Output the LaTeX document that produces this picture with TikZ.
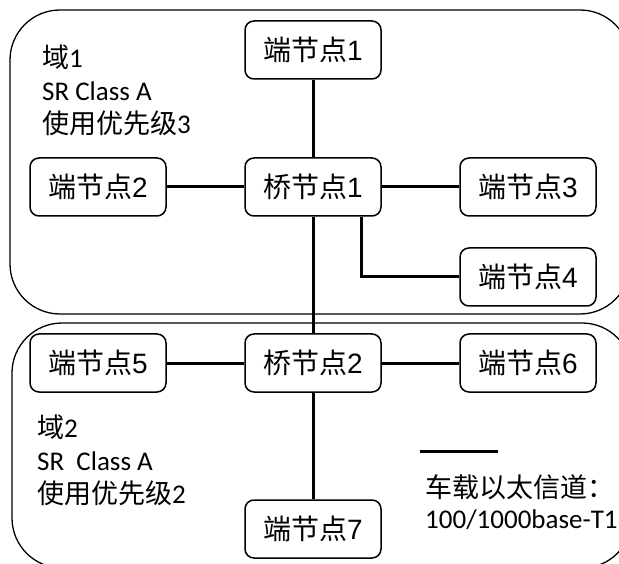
\documentclass[tikz,border=0pt]{standalone}
\usepackage{fontspec}
\setmainfont{Liberation Sans}
\newfontfamily\cjk{Noto Sans CJK SC}
\newfontfamily\calfont{Carlito}
\begin{document}
\begin{tikzpicture}[x=1pt,y=-1pt,
  nodebox/.style={draw, line width=1.5pt, rounded corners=9pt, minimum width=136pt, minimum height=58pt, inner sep=0pt, font=\fontsize{28}{30}\selectfont},
  link/.style={line width=3pt},
  domainbox/.style={draw, line width=1.3pt, rounded corners=50pt},
  lab/.style={anchor=base west, inner sep=0pt, font=\calfont\fontsize{27}{30}\selectfont}]
\useasboundingbox (0,0) rectangle (619,564);
\clip (0,0) rectangle (619,564);
% domains
\draw[domainbox] (10,10) rectangle (630,314);
\draw[domainbox] (12,323) rectangle (632,568);
% nodes
\node[nodebox] (e1) at (313,50)  {{\cjk 端节点}1};
\node[nodebox] (e2) at (98,187)  {{\cjk 端节点}2};
\node[nodebox] (b1) at (313,187) {{\cjk 桥节点}1};
\node[nodebox] (e3) at (528,187) {{\cjk 端节点}3};
\node[nodebox] (e4) at (528,277) {{\cjk 端节点}4};
\node[nodebox] (e5) at (98,363)  {{\cjk 端节点}5};
\node[nodebox] (b2) at (313,363) {{\cjk 桥节点}2};
\node[nodebox] (e6) at (528,363) {{\cjk 端节点}6};
\node[nodebox] (e7) at (313,529) {{\cjk 端节点}7};
% links
\draw[link] (e1) -- (b1);
\draw[link] (e2) -- (b1);
\draw[link] (b1) -- (e3);
\draw[link] ([xshift=48pt]b1.south) |- (e4.west);
\draw[link] (b1) -- (b2);
\draw[link] (e5) -- (b2);
\draw[link] (b2) -- (e6);
\draw[link] (b2) -- (e7);
% domain labels
\node[lab] (d1a) at (42,68)  {{\cjk 域}1};
\node[lab] (d1b) at (42,101) {SR Class A};
\node[lab] (d1c) at (42,134) {{\cjk 使用优先级}3};
\node[lab] (d2a) at (37,437) {{\cjk 域}2};
\node[lab] (d2b) at (37,470) {SR\ \ Class A};
\node[lab] (d2c) at (37,503) {{\cjk 使用优先级}2};
% legend
\coordinate (l1) at (420,451);
\coordinate (l2) at (498,451);
\draw[link] (l1) -- (l2);
\node[lab] (lg1) at (425,497) {{\cjk 车载以太信道：}};
\node[lab] (lg2) at (425,528) {100/1000base-T1};
\end{tikzpicture}
\end{document}
